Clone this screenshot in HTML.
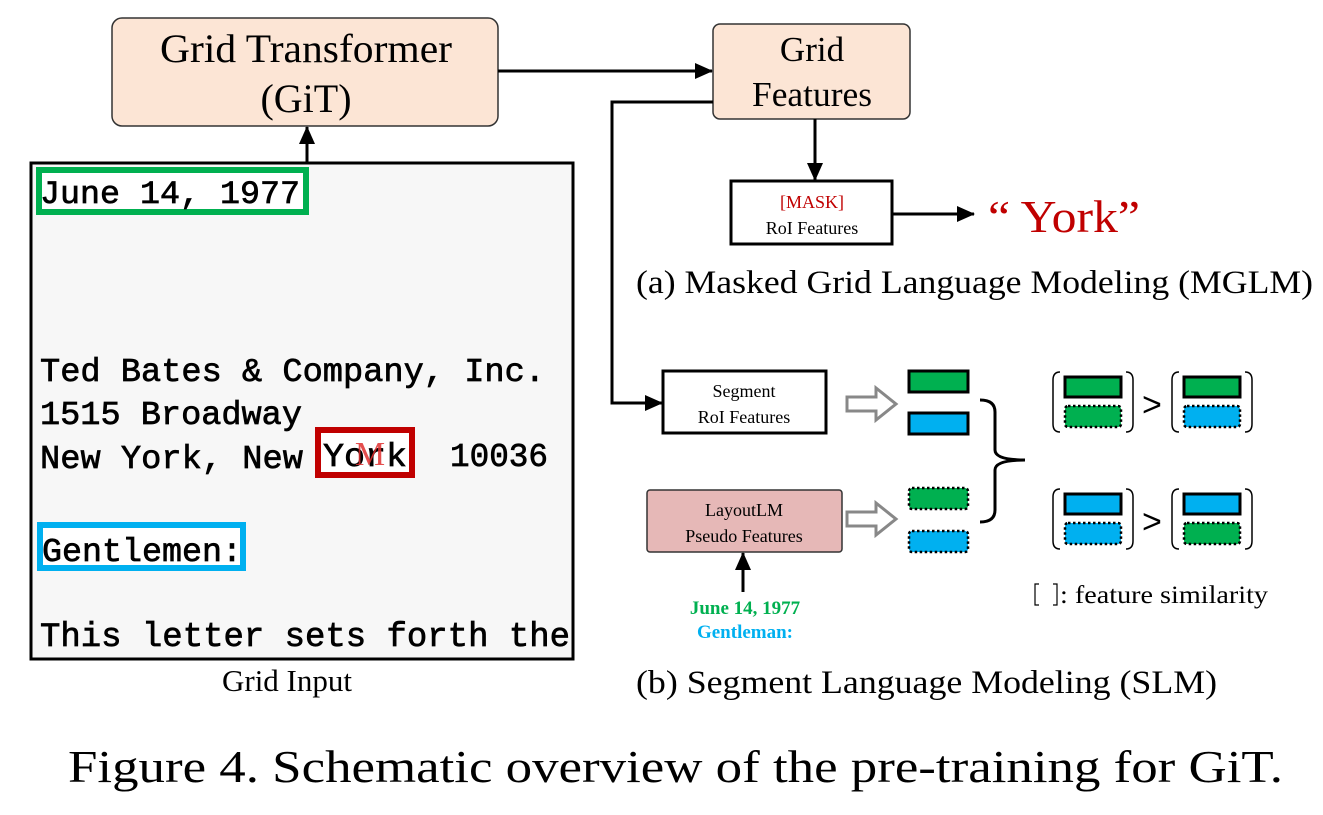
<!DOCTYPE html>
<html><head><meta charset="utf-8"><style>
html,body{margin:0;padding:0;background:#fff;}
svg{display:block;}
.serif{font-family:"Liberation Serif",serif;}
.mono{font-family:"Liberation Mono",monospace;font-weight:normal;stroke:#000;stroke-width:0.7;}
</style></head><body>
<svg width="1323" height="815" viewBox="0 0 1323 815" xmlns="http://www.w3.org/2000/svg">
<defs>
<marker id="ah2" markerWidth="18" markerHeight="16" refX="17" refY="8" orient="auto" markerUnits="userSpaceOnUse" viewBox="0 0 18 16">
<path d="M0,0 L18,8 L0,16 z" fill="#000"/></marker>
</defs>

<!-- Grid Transformer -->
<rect x="112" y="18" width="386" height="108" rx="10" fill="#fce5d5" stroke="#333" stroke-width="1.5"/>
<text class="serif" x="306" y="62" font-size="40" text-anchor="middle" textLength="292" lengthAdjust="spacingAndGlyphs">Grid Transformer</text>
<text class="serif" x="306" y="112" font-size="40" text-anchor="middle">(GiT)</text>

<!-- Grid Features -->
<rect x="713" y="24" width="197" height="95" rx="7" fill="#fce5d5" stroke="#333" stroke-width="1.5"/>
<text class="serif" x="812" y="61" font-size="35" text-anchor="middle">Grid</text>
<text class="serif" x="812" y="106" font-size="35" text-anchor="middle" textLength="120" lengthAdjust="spacingAndGlyphs">Features</text>

<!-- arrows top -->
<line x1="498" y1="71" x2="712" y2="71" stroke="#000" stroke-width="3" marker-end="url(#ah2)"/>
<polyline points="713,102 612,102 612,403 662,403" fill="none" stroke="#000" stroke-width="3" marker-end="url(#ah2)"/>
<line x1="815" y1="119" x2="815" y2="180" stroke="#000" stroke-width="3" marker-end="url(#ah2)"/>
<line x1="307" y1="163" x2="307" y2="127" stroke="#000" stroke-width="3" marker-end="url(#ah2)"/>

<!-- MASK box -->
<rect x="731" y="181" width="161" height="63" fill="#fff" stroke="#000" stroke-width="3"/>
<text class="serif" x="812" y="208" font-size="18" fill="#c00000" text-anchor="middle">[MASK]</text>
<text class="serif" x="812" y="234" font-size="18" text-anchor="middle">RoI Features</text>
<line x1="892" y1="214" x2="974" y2="214" stroke="#000" stroke-width="3" marker-end="url(#ah2)"/>
<text class="serif" x="988" y="232" font-size="46" fill="#c00000" textLength="152" lengthAdjust="spacingAndGlyphs">“ York”</text>

<text class="serif" x="636" y="293" font-size="33" textLength="677" lengthAdjust="spacingAndGlyphs">(a) Masked Grid Language Modeling (MGLM)</text>

<!-- Document -->
<rect x="31" y="163" width="542" height="496" fill="#f7f7f7" stroke="#000" stroke-width="3"/>
<rect x="39" y="170" width="267" height="42" fill="#fff" stroke="#00b050" stroke-width="6"/>
<rect x="318" y="430" width="94" height="45" fill="#fff" stroke="#c00000" stroke-width="6"/>
<rect x="40" y="525" width="203" height="43" fill="#fff" stroke="#00b0f0" stroke-width="6"/>
<text class="mono" x="40" y="203" font-size="32" textLength="260" lengthAdjust="spacingAndGlyphs">June 14, 1977</text>
<text class="mono" x="40" y="381" font-size="33" textLength="505" lengthAdjust="spacingAndGlyphs">Ted Bates &amp; Company, Inc.</text>
<text class="mono" x="40" y="424" font-size="33" textLength="262" lengthAdjust="spacingAndGlyphs">1515 Broadway</text>
<text class="mono" x="40" y="468" font-size="33" textLength="263" lengthAdjust="spacingAndGlyphs">New York, New</text>
<text class="mono" x="323" y="466" font-size="33" textLength="84" lengthAdjust="spacingAndGlyphs">York</text>
<text class="mono" x="450" y="466" font-size="33" textLength="98" lengthAdjust="spacingAndGlyphs">10036</text>
<text class="serif" x="370" y="465" font-size="34" fill="#e03030" text-anchor="middle" opacity="0.85">M</text>
<text class="mono" x="42" y="561" font-size="33" textLength="200" lengthAdjust="spacingAndGlyphs">Gentlemen:</text>
<text class="mono" x="40" y="646" font-size="34" textLength="530" lengthAdjust="spacingAndGlyphs">This letter sets forth the</text>
<text class="serif" x="287" y="691" font-size="31" text-anchor="middle">Grid Input</text>

<!-- Segment box -->
<rect x="663" y="371" width="163" height="62" fill="#fff" stroke="#000" stroke-width="3"/>
<text class="serif" x="744" y="397" font-size="18" text-anchor="middle">Segment</text>
<text class="serif" x="744" y="423" font-size="18" text-anchor="middle">RoI Features</text>

<!-- LayoutLM box -->
<rect x="647" y="490" width="195" height="62" rx="3" fill="#e6b8b7" stroke="#333" stroke-width="1.5"/>
<text class="serif" x="744" y="516" font-size="18" text-anchor="middle">LayoutLM</text>
<text class="serif" x="744" y="542" font-size="18" text-anchor="middle">Pseudo Features</text>
<line x1="743" y1="592" x2="743" y2="553" stroke="#000" stroke-width="3" marker-end="url(#ah2)"/>
<text class="serif" x="745" y="614" font-size="19" font-weight="bold" fill="#00b050" text-anchor="middle">June 14, 1977</text>
<text class="serif" x="745" y="638" font-size="19" font-weight="bold" fill="#00b0f0" text-anchor="middle">Gentleman:</text>

<!-- hollow arrows -->
<path d="M847,397 L876,397 L876,388 L896,404 L876,420 L876,411 L847,411 z" fill="#fff" stroke="#888" stroke-width="3"/>
<path d="M847,512 L876,512 L876,503 L896,519 L876,535 L876,526 L847,526 z" fill="#fff" stroke="#888" stroke-width="3"/>

<!-- small rects -->
<rect x="909" y="371" width="59" height="21" fill="#00b050" stroke="#000" stroke-width="3"/>
<rect x="909" y="413" width="59" height="21" fill="#00b0f0" stroke="#000" stroke-width="3"/>
<rect x="909" y="488" width="59" height="21" rx="3" fill="#00b050" stroke="#000" stroke-width="2.5" stroke-dasharray="2.5,2.5"/>
<rect x="909" y="531" width="59" height="21" rx="3" fill="#00b0f0" stroke="#000" stroke-width="2.5" stroke-dasharray="2.5,2.5"/>

<!-- brace -->
<path d="M980,400 Q995,400 995,412 L995,450 Q995,460 1025,460 Q995,460 995,470 L995,510 Q995,522 980,522" fill="none" stroke="#000" stroke-width="3"/>

<!-- comparisons -->
<g id="cmp">
<path d="M1060,372 Q1053,372 1053,380 L1053,424 Q1053,432 1060,432" fill="none" stroke="#000" stroke-width="1.5"/>
<path d="M1126,372 Q1133,372 1133,380 L1133,424 Q1133,432 1126,432" fill="none" stroke="#000" stroke-width="1.5"/>
<path d="M1179,372 Q1172,372 1172,380 L1172,424 Q1172,432 1179,432" fill="none" stroke="#000" stroke-width="1.5"/>
<path d="M1245,372 Q1252,372 1252,380 L1252,424 Q1252,432 1245,432" fill="none" stroke="#000" stroke-width="1.5"/>
</g>
<use href="#cmp" y="117"/>
<text font-family="Liberation Sans,sans-serif" x="1142" y="416" font-size="34">&gt;</text>
<text font-family="Liberation Sans,sans-serif" x="1142" y="533" font-size="34">&gt;</text>

<rect x="1065" y="377" width="56" height="20" fill="#00b050" stroke="#000" stroke-width="3"/>
<rect x="1065" y="406" width="56" height="21" rx="3" fill="#00b050" stroke="#000" stroke-width="2.5" stroke-dasharray="2.5,2.5"/>
<rect x="1184" y="377" width="56" height="20" fill="#00b050" stroke="#000" stroke-width="3"/>
<rect x="1184" y="406" width="56" height="21" rx="3" fill="#00b0f0" stroke="#000" stroke-width="2.5" stroke-dasharray="2.5,2.5"/>

<rect x="1065" y="494" width="56" height="20" fill="#00b0f0" stroke="#000" stroke-width="3"/>
<rect x="1065" y="523" width="56" height="21" rx="3" fill="#00b0f0" stroke="#000" stroke-width="2.5" stroke-dasharray="2.5,2.5"/>
<rect x="1184" y="494" width="56" height="20" fill="#00b0f0" stroke="#000" stroke-width="3"/>
<rect x="1184" y="523" width="56" height="21" rx="3" fill="#00b050" stroke="#000" stroke-width="2.5" stroke-dasharray="2.5,2.5"/>

<!-- legend -->
<path d="M1039,584 L1035,584 L1035,605 L1039,605" fill="none" stroke="#000" stroke-width="1.2"/>
<path d="M1053,584 L1057,584 L1057,605 L1053,605" fill="none" stroke="#000" stroke-width="1.2"/>
<text class="serif" x="1060" y="603" font-size="25" textLength="208" lengthAdjust="spacingAndGlyphs">: feature similarity</text>

<text class="serif" x="636" y="693" font-size="33" textLength="581" lengthAdjust="spacingAndGlyphs">(b) Segment Language Modeling (SLM)</text>

<text class="serif" x="68" y="782" font-size="46" textLength="1215" lengthAdjust="spacingAndGlyphs">Figure 4. Schematic overview of the pre-training for GiT.</text>
</svg>
</body></html>
